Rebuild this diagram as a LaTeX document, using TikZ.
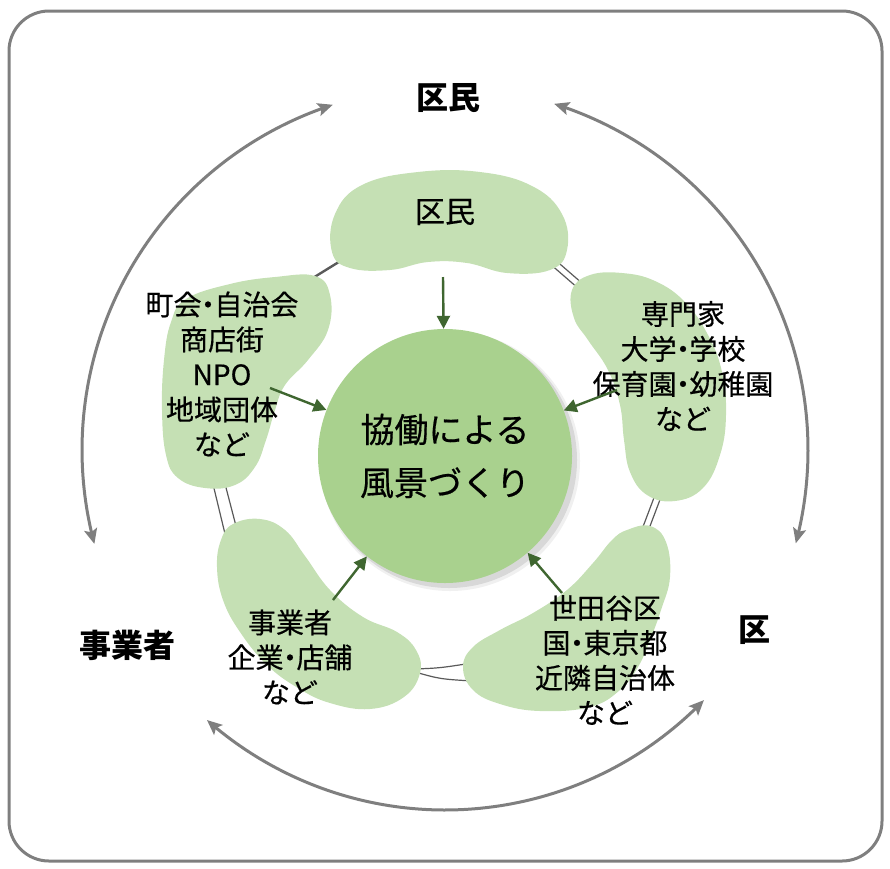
\documentclass[tikz,border=0pt]{standalone}
\usepackage{fontspec}
\newfontfamily\jp{Noto Sans CJK JP}
\newfontfamily\jpm[FakeBold=0.5]{Noto Sans CJK JP}
\newcommand{\nakaguro}{\kern-0.27em・\kern-0.27em}
\usetikzlibrary{arrows.meta}
\definecolor{blobc}{HTML}{C5E0B4}
\definecolor{hubc}{HTML}{A9D18E}
\definecolor{dkg}{HTML}{3F6630}
\definecolor{arcg}{HTML}{7F7F7F}
\definecolor{linkg}{HTML}{5A5A5A}
\begin{document}
\begin{tikzpicture}[x=1pt,y=-1pt,
  blob/.style={fill=blobc},
  blobtext/.style={inner sep=0pt, align=center, font=\jpm\fontsize{28pt}{35pt}\selectfont},
  outlabel/.style={inner sep=0pt, font=\jp\bfseries\fontsize{32pt}{38pt}\selectfont},
  outarr/.style={draw=arcg, line width=3pt, {Stealth[length=15pt,width=13pt,inset=3pt]}-{Stealth[length=15pt,width=13pt,inset=3pt]}},
  inarr/.style={draw=dkg, line width=2.4pt, -{Triangle[length=13pt,width=13pt]}},
  link/.style={draw=linkg, line width=2.4pt},
  dlink/.style={draw=linkg, line width=1.2pt}]
\useasboundingbox (0,0) rectangle (890,868);
\draw[arcg, line width=3pt, rounded corners=40pt] (9,11) rectangle (882,861);

% connectors between blobs (drawn under blobs)
\coordinate (l1a) at (308,281); \coordinate (l1b) at (342,260);
\draw[link] (l1a) -- (l1b);
\coordinate (l2a) at (553,258); \coordinate (l2b) at (583,284);
\coordinate (l2c) at (549,263); \coordinate (l2d) at (579,289);
\draw[dlink] (l2a) -- (l2b); \draw[dlink] (l2c) -- (l2d);
\coordinate (l3a) at (655,495); \coordinate (l3b) at (641,532);
\coordinate (l3c) at (661,497); \coordinate (l3d) at (647,534);
\draw[dlink] (l3a) -- (l3b); \draw[dlink] (l3c) -- (l3d);
\coordinate (l4a) at (415,669); \coordinate (l4b) at (472,663);
\coordinate (l4c) at (415,672); \coordinate (l4d) at (472,681);
\draw[dlink] (l4a) .. controls (440,668) .. (l4b);
\draw[dlink] (l4c) .. controls (440,679) .. (l4d);
\coordinate (l5a) at (212,480); \coordinate (l5b) at (226,538);
\coordinate (l5c) at (224,480); \coordinate (l5d) at (236,526);
\draw[dlink] (l5a) -- (l5b); \draw[dlink] (l5c) -- (l5d);

% blobs
\fill[blob] plot[smooth cycle, tension=0.7] coordinates {(332,252) (335,214) (362,185) (418,172) (480,172) (532,186) (562,214) (567,250) (550,270) (507,273) (467,263) (428,262) (390,270) (350,268)};
\fill[blob] plot[smooth cycle, tension=0.7] coordinates {(186,299) (230,284) (275,277) (315,276) (330,295) (328,330) (308,360) (285,385) (275,410) (266,440) (255,467) (235,485) (205,488) (178,478) (166,455) (162,410) (164,360) (171,322)};
\fill[blob] plot[smooth cycle, tension=0.7] coordinates {(572,290) (590,275) (622,273) (655,281) (685,302) (708,335) (722,372) (726,415) (720,455) (703,488) (675,501) (647,495) (630,472) (624,440) (620,405) (608,370) (588,340) (574,318)};
\fill[blob] plot[smooth cycle, tension=0.7] coordinates {(233,524) (260,519) (285,530) (305,556) (330,590) (363,617) (397,632) (416,650) (420,673) (404,697) (370,709) (330,703) (298,688) (267,665) (240,632) (223,600) (217,567) (221,540)};
\fill[blob] plot[smooth cycle, tension=0.7] coordinates {(627,530) (650,526) (666,542) (670,577) (661,610) (650,640) (638,667) (620,690) (590,707) (540,711) (500,704) (473,690) (463,667) (473,647) (500,630) (533,613) (567,590) (593,563) (612,540)};

% hub
\fill[black, opacity=0.06] (450,461) circle[radius=130pt];
\fill[black, opacity=0.10] (449,460) circle[radius=128pt];
\node[circle, fill=hubc, minimum size=254pt, inner sep=0pt, align=center,
  font=\jpm\fontsize{34pt}{53pt}\selectfont] (hub) at (445,456) {協働による\\風景づくり};

% blob texts
\node[blobtext, font=\jpm\fontsize{30pt}{36pt}\selectfont] (kumin) at (445,212) {区民};
\node[blobtext] (chokai) at (222,374) {町会\nakaguro 自治会\\商店街\\NPO\\地域団体\\など};
\node[blobtext] (senmon) at (683,366) {専門家\\大学\nakaguro 学校\\保育園\nakaguro 幼稚園\\など};
\node[blobtext] (jigyo) at (290,657) {事業者\\企業\nakaguro 店舗\\など};
\node[blobtext] (setagaya) at (605,660) {世田谷区\\国\nakaguro 東京都\\近隣自治体\\など};

% outer labels
\node[outlabel] (okumin) at (448,98) {区民};
\node[outlabel] (ojigyo) at (127,645) {事業者};
\node[outlabel] (oku) at (754,630) {区};

% inner arrows
\coordinate (a1) at (443,277);
\coordinate (a2) at (270,388);
\coordinate (a3) at (617,390);
\coordinate (a4) at (333,600);
\coordinate (a5) at (562,593);
\draw[inarr] (a1) -- (hub);
\draw[inarr] (a2) -- (hub);
\draw[inarr] (a3) -- (hub);
\draw[inarr] (a4) -- (hub);
\draw[inarr] (a5) -- (hub);

% outer arcs
\draw[outarr] plot[domain=-108:-195, samples=90, variable=\t] ({445+363*cos(\t)},{450+363*sin(\t)});
\draw[outarr] plot[domain=-72.5:14.9, samples=90, variable=\t] ({445+363*cos(\t)},{450+363*sin(\t)});
\draw[outarr] plot[domain=131.4:44, samples=90, variable=\t] ({445+360*cos(\t)},{450+360*sin(\t)});
\end{tikzpicture}
\end{document}
